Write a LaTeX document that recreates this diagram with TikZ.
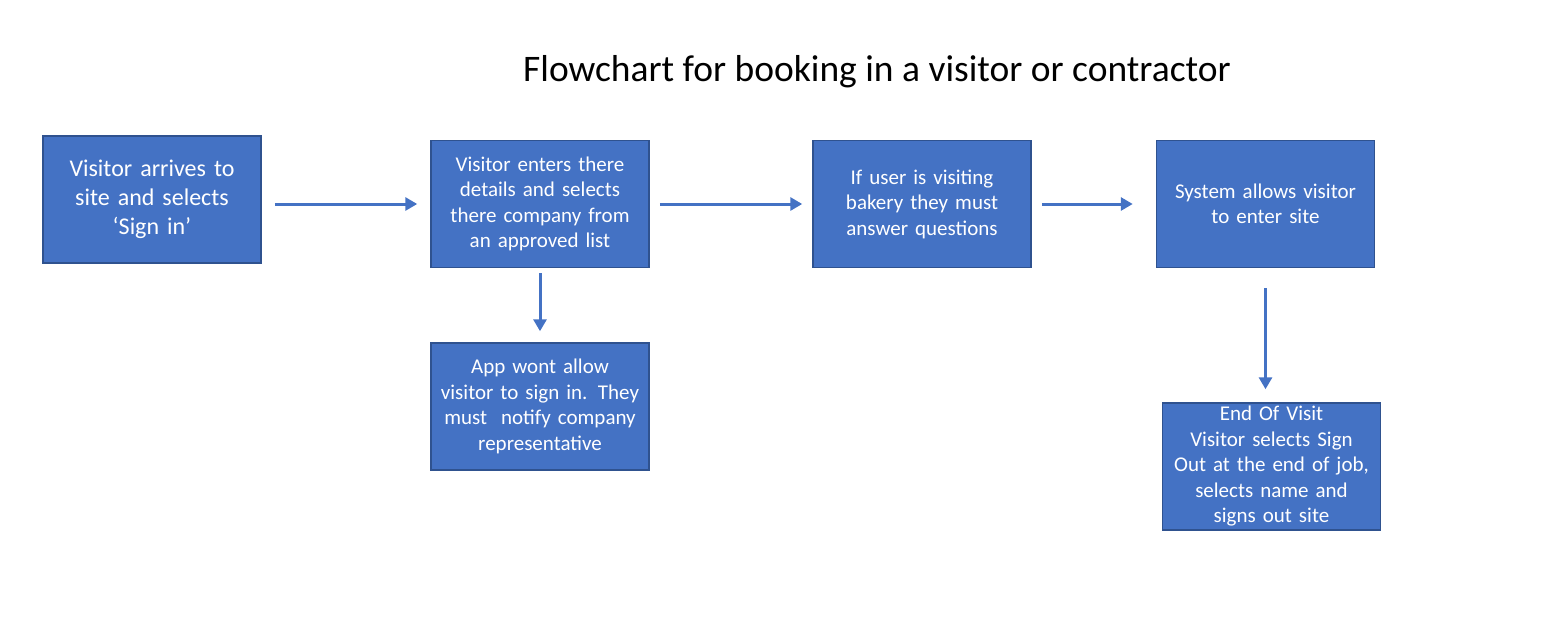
\documentclass[tikz,border=0pt]{standalone}
\usepackage{fontspec}
\setmainfont{Carlito}
\usepackage{tikz}
\usetikzlibrary{arrows.meta}
\definecolor{boxblue}{HTML}{4472C4}
\definecolor{boxedge}{HTML}{2F528F}
\tikzset{
  stepbox/.style={
    rectangle, fill=boxblue, draw=boxedge, line width=1.5pt,
    text=white, align=center, text width=212pt, inner xsep=3pt, inner ysep=2pt,
    minimum height=127pt, font=\fontsize{21}{25.5}\selectfont},
  flow/.style={
    draw=boxblue, line width=3pt,
    -{Triangle[length=12pt,width=13pt]}}
}

\begin{document}
\begin{tikzpicture}[x=1pt,y=-1pt]
\useasboundingbox (0,0) rectangle (1557,622);
\node at (877,72) (title) {\fontsize{37.5}{44}\selectfont Flowchart for booking in a visitor or contractor};
\node at (152,199.5)[stepbox,font=\fontsize{24}{29}\selectfont] (arrive) {Visitor arrives to\\site and selects\\‘Sign in’};
\node at (540,204)[stepbox] (details) {Visitor enters there\\details and selects\\there company from\\an approved list};
\node at (922,204)[stepbox] (bakery) {If user is visiting\\bakery they must\\answer questions};
\node at (1265.5,204)[stepbox] (allow) {System allows visitor\\to enter site};
\node at (540,406.5)[stepbox] (refuse) {App wont allow\\visitor to sign in. They\\must\ \ notify company\\representative};
\node at (1271.5,466.5)[stepbox] (leave) {End Of Visit\\Visitor selects Sign\\Out at the end of job,\\selects name and\\signs out site};
\draw[flow,shorten <=13pt,shorten >=13pt] (arrive.east |- details.west) -- (details.west);
\draw[flow,shorten <=10pt,shorten >=10pt] (details.east) -- (bakery.west);
\draw[flow,shorten <=10pt,shorten >=23pt] (bakery.east) -- (allow.west);
\draw[flow,shorten <=5pt,shorten >=11pt] (details.south) -- (refuse.north);
\draw[flow,shorten <=20pt,shorten >=13pt] (allow.south) -- (allow.south |- leave.north);
\end{tikzpicture}
\end{document}
